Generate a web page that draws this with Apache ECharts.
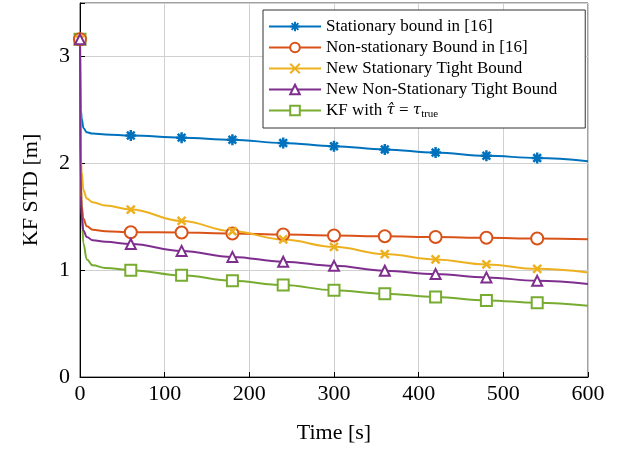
<!DOCTYPE html>
<html>
<head>
<meta charset="utf-8">
<script src="https://cdn.jsdelivr.net/npm/echarts@6/dist/echarts.min.js"></script>
<style>
  html, body { margin: 0; padding: 0; background: #fff; }
  #chart { width: 626px; height: 451px; }
</style>
</head>
<body>
<div id="chart"></div>
<script>
// time samples (s) and curve values (m)
var times = [0, 1, 2, 4, 8, 15, 30, 60, 120, 180, 240, 300, 360, 420, 480, 540, 600];
var markerTimes = [0, 60, 120, 180, 240, 300, 360, 420, 480, 540];

var statBound16 = [3.16, 2.5, 2.42, 2.33, 2.29, 2.278, 2.27, 2.26, 2.24, 2.22, 2.19, 2.16, 2.13, 2.10, 2.07, 2.05, 2.02];
var nonStatBound16 = [3.16, 1.8, 1.6, 1.48, 1.41, 1.378, 1.365, 1.355, 1.352, 1.343, 1.333, 1.324, 1.317, 1.31, 1.303, 1.296, 1.29];
var newStatTight = [3.16, 2.05, 1.92, 1.75, 1.67, 1.635, 1.605, 1.567, 1.46, 1.364, 1.287, 1.218, 1.15, 1.10, 1.053, 1.012, 0.978];
var newNonStatTight = [3.16, 1.7, 1.5, 1.37, 1.31, 1.28, 1.265, 1.245, 1.18, 1.124, 1.078, 1.04, 0.994, 0.963, 0.932, 0.90, 0.87];
var kfTrue = [3.16, 1.9, 1.55, 1.25, 1.1, 1.045, 1.02, 1.0, 0.952, 0.90, 0.86, 0.813, 0.78, 0.748, 0.717, 0.695, 0.667];

var xTicks = [0, 100, 200, 300, 400, 500, 600];
var yTicks = [0, 1, 2, 3];

var serif = "Liberation Serif";
var asterisk = "path://M0,-10L0,10M-10,0L10,0M-7,-7L7,7M-7,7L7,-7";
var cross = "path://M-10,-10L10,10M-10,10L10,-10";

function buildData(vals) {
  return times.map(function (t, i) {
    var keep = markerTimes.indexOf(t) >= 0;
    return keep ? { value: [t, vals[i]] } : { value: [t, vals[i]], symbol: "none" };
  });
}

function makeSeries(name, vals, color, symbol, size, bw, z) {
  return {
    name: name,
    type: "line",
    data: buildData(vals),
    smooth: 0.4,
    smoothMonotone: "x",
    showAllSymbol: true,
    symbol: symbol,
    symbolSize: size,
    lineStyle: { color: color, width: 2, type: "solid" },
    itemStyle: { color: color, borderColor: color, borderWidth: bw || 2 },
    emphasis: { disabled: true },
    z: z || 3
  };
}

var myChart = echarts.init(document.getElementById("chart"));

var option = {
  animation: false,
  backgroundColor: "#fff",
  grid: {
    left: 80, right: 38, top: 3, bottom: 74,
    show: true, borderColor: "#444", borderWidth: 1
  },
  legend: {
    orient: "vertical",
    left: 263, top: 10,
    itemWidth: 52, itemHeight: 12, itemGap: 4,
    padding: [8, 28, 8, 5],
    borderColor: "#333", borderWidth: 1,
    backgroundColor: "#fff",
    textStyle: {
      fontFamily: serif, fontSize: 17, color: "#000",
      rich: {
        n: { fontFamily: serif, fontSize: 17, color: "#000" },
        i: { fontFamily: "DejaVu Serif", fontSize: 15, fontStyle: "italic", color: "#000" },
        s: { fontFamily: serif, fontSize: 11, color: "#000", padding: [8, 0, 0, 0] }
      }
    },
    formatter: function (name) {
      if (name.indexOf("KF with") === 0) {
        return "{n|KF with }{i|τ\u0302}{n| = }{i|τ}{s|true}";
      }
      return name;
    }
  },
  xAxis: {
    type: "value",
    min: 0, max: 600, interval: 100,
    name: "Time [s]",
    nameLocation: "middle", nameGap: 45,
    nameTextStyle: { fontFamily: serif, fontSize: 22, color: "#000" },
    axisLine: { lineStyle: { color: "#000", width: 1 } },
    axisTick: { inside: true, length: 5, lineStyle: { color: "#000" } },
    axisLabel: {
      fontFamily: serif, fontSize: 22, color: "#000", margin: 6,
      formatter: function (v) { return xTicks.indexOf(v) >= 0 ? String(v) : ""; }
    },
    splitLine: { show: true, lineStyle: { color: "#d0d0d0", width: 1 } }
  },
  yAxis: {
    type: "value",
    min: 0, max: 3.5, interval: 1,
    name: "KF STD [m]",
    nameLocation: "middle", nameGap: 38,
    nameTextStyle: { fontFamily: serif, fontSize: 22, color: "#000" },
    axisLine: { show: true, lineStyle: { color: "#000", width: 1 } },
    axisTick: { show: true, inside: true, length: 5, lineStyle: { color: "#000" } },
    axisLabel: {
      fontFamily: serif, fontSize: 22, color: "#000", margin: 10,
      formatter: function (v) { return yTicks.indexOf(v) >= 0 ? String(v) : ""; }
    },
    splitLine: { show: true, lineStyle: { color: "#d0d0d0", width: 1 } }
  },
  series: [
    makeSeries("Stationary bound in [16]", statBound16, "#0072BD", asterisk, 11, 2.5),
    makeSeries("Non-stationary Bound in [16]", nonStatBound16, "#D95319", "emptyCircle", 12),
    makeSeries("New Stationary Tight Bound", newStatTight, "#EDB120", cross, 8, 2.5),
    makeSeries("New Non-Stationary Tight Bound", newNonStatTight, "#7E2F8E", "emptyTriangle", 10, 3.5),
    makeSeries("KF with τ̂ = τtrue", kfTrue, "#77AC30", "emptyRect", 11, 2.2, 2)
  ]
};

myChart.setOption(option);
</script>
</body>
</html>
